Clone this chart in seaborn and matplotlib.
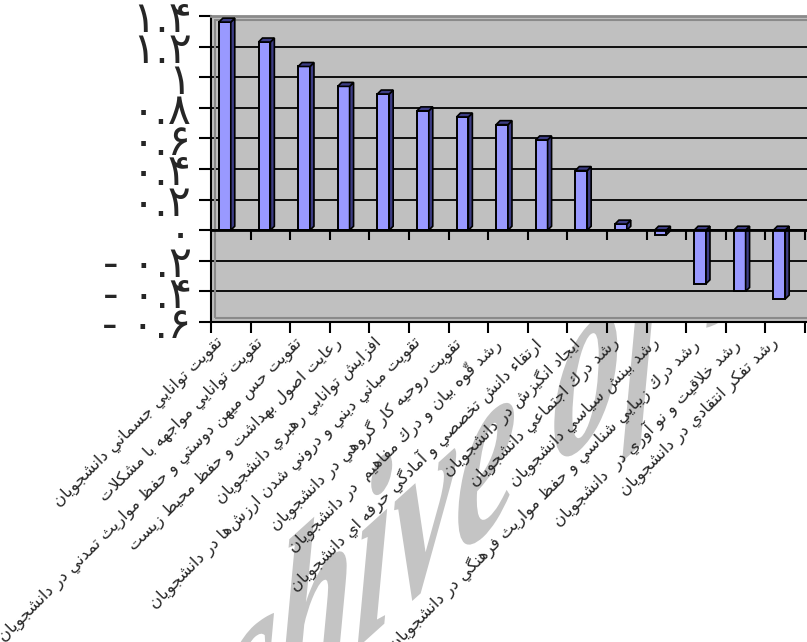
"""
plot.py
-------
Bar chart of goal scores (Persian labels), 3D-column look.
"""

import numpy as np
import pandas as pd
import matplotlib
matplotlib.use("Agg")
import matplotlib.pyplot as plt
import seaborn as sns
from matplotlib.patches import Polygon, PathPatch, Rectangle
from matplotlib.textpath import TextPath
from matplotlib.font_manager import FontProperties
from matplotlib.transforms import Affine2D

goals = [
    "تقويت توانايي جسماني دانشجويان",
    "تقويت توانايي مواجهه با مشكلات",
    "تقويت حس ميهن دوستي و حفظ مواريث تمدني در دانشجويان",
    "رعايت اصول بهداشت و حفظ محيط زيست",
    "افزايش توانايي رهبري دانشجويان",
    "تقويت مباني ديني و دروني شدن ارزش\u200cها در دانشجويان",
    "تقويت روحيه كار گروهي در دانشجويان",
    "رشد قوّه بيان و درك مفاهيم  در دانشجويان",
    "ارتقاء دانش تخصصي و آمادگي حرفه اي دانشجويان",
    "ايجاد انگيزش در دانشجويان",
    "رشد درك اجتماعي دانشجويان",
    "رشد بينش سياسي دانشجويان",
    "رشد درك زيبايي شناسي و حفظ مواريث فرهنگي در دانشجويان",
    "رشد خلاقيت و نو آوري در  دانشجويان",
    "رشد تفكر انتقادي در دانشجويان",
]
scores = [1.36, 1.23, 1.07, 0.94, 0.89, 0.78, 0.74, 0.69, 0.59, 0.39,
          0.04, -0.03, -0.35, -0.40, -0.45]
y_ticks = [-0.6, -0.4, -0.2, 0, 0.2, 0.4, 0.6, 0.8, 1, 1.2, 1.4]
y_tick_labels = ["- ۰.۶", "- ۰.۴", "- ۰.۲", "۰", "۰.۲", "۰.۴", "۰.۶",
                 "۰.۸", "۱", "۱.۲", "۱.۴"]

# --- minimal Arabic/Persian shaping (no arabic_reshaper available) ---
_B_BLOCK = [("\u0621", 1), ("\u0622", 2), ("\u0623", 2), ("\u0624", 2),
            ("\u0625", 2), ("\u0626", 4), ("\u0627", 2), ("\u0628", 4),
            ("\u0629", 2), ("\u062a", 4), ("\u062b", 4), ("\u062c", 4),
            ("\u062d", 4), ("\u062e", 4), ("\u062f", 2), ("\u0630", 2),
            ("\u0631", 2), ("\u0632", 2), ("\u0633", 4), ("\u0634", 4),
            ("\u0635", 4), ("\u0636", 4), ("\u0637", 4), ("\u0638", 4),
            ("\u0639", 4), ("\u063a", 4), ("\u0641", 4), ("\u0642", 4),
            ("\u0643", 4), ("\u0644", 4), ("\u0645", 4), ("\u0646", 4),
            ("\u0647", 4), ("\u0648", 2), ("\u0649", 2), ("\u064a", 4)]
FORMS = {}
_code = 0xFE80
for _ch, _n in _B_BLOCK:
    FORMS[_ch] = [chr(_code + k) for k in range(_n)]
    _code += _n
for _ch, _start, _n in [("\u067e", 0xFB56, 4), ("\u0686", 0xFB7A, 4),
                        ("\u0698", 0xFB8A, 2), ("\u06a9", 0xFB8E, 4),
                        ("\u06af", 0xFB92, 4), ("\u06cc", 0xFBFC, 4)]:
    FORMS[_ch] = [chr(_start + k) for k in range(_n)]
LAM_ALEF = {"\u0622": "\ufef5", "\u0623": "\ufef7", "\u0625": "\ufef9", "\u0627": "\ufefb"}


def is_mark(c):
    return "\u064b" <= c <= "\u065f" or c == "\u0670"


def joins_next(c):
    return c in FORMS and len(FORMS[c]) == 4


def joins_prev(c):
    return c in FORMS and len(FORMS[c]) >= 2


def shape(text):
    chars = list(text)
    n = len(chars)
    glyphs = []
    prev_joins = False
    i = 0
    while i < n:
        c = chars[i]
        if is_mark(c) and glyphs:
            glyphs[-1] += c
            i += 1
            continue
        if c not in FORMS:
            if c != "\u200c":
                glyphs.append(c)
            prev_joins = False
            i += 1
            continue
        k = i + 1
        while k < n and is_mark(chars[k]):
            k += 1
        nxt = chars[k] if k < n else ""
        jp = prev_joins and joins_prev(c)
        if c == "\u0644" and nxt in LAM_ALEF:
            lig = LAM_ALEF[nxt]
            if jp:
                lig = chr(ord(lig) + 1)
            glyphs.append(lig + "".join(chars[i + 1:k]))
            prev_joins = False
            i = k + 1
            continue
        jn = joins_next(c) and joins_prev(nxt)
        f = FORMS[c]
        if jp and jn:
            g = f[3]
        elif jp:
            g = f[1]
        elif jn:
            g = f[2]
        else:
            g = f[0]
        glyphs.append(g)
        prev_joins = joins_next(c)
        i += 1
    return "".join(reversed(glyphs))


sns.set_theme(style="white")
plt.rcParams["font.family"] = ["DejaVu Sans"]

fig = plt.figure(figsize=(8.07, 6.42), dpi=100)
W, H = 807, 642
ax = fig.add_axes([211 / W, 1 - 322 / H, (807 - 211) / W, (322 - 16) / H])
ax.set_zorder(1)
ax.set_facecolor("#c0c0c0")

df = pd.DataFrame({"goal": [shape(g) for g in goals], "score": scores})
sns.barplot(data=df, x="goal", y="score", color="#9999ff", saturation=1,
            width=0.3, edgecolor="black", linewidth=1.4, ax=ax, zorder=3)

# 3D side and top faces, taken from the bars seaborn drew
dx, dy = 0.1, 0.026
for p in list(ax.patches):
    x0, w = p.get_x(), p.get_width()
    y0, h = p.get_y(), p.get_height()
    top, bot = max(y0, y0 + h), min(y0, y0 + h)
    ax.add_patch(Polygon([(x0 + w, bot), (x0 + w + dx, bot + dy),
                          (x0 + w + dx, top + dy), (x0 + w, top)],
                         closed=True, facecolor="#3d3d85", edgecolor="black",
                         linewidth=1.2, zorder=3))
    ax.add_patch(Polygon([(x0, top), (x0 + dx, top + dy),
                          (x0 + w + dx, top + dy), (x0 + w, top)],
                         closed=True, facecolor="#3d3d85", edgecolor="black",
                         linewidth=1.2, zorder=3))

n = len(goals)
bounds = np.arange(n + 1) - 0.35
ax.set_xlim(-0.35, n - 0.3)
ax.set_ylim(-0.6, 1.4)

# back wall outline
ax.add_patch(Rectangle((4 / 596, 4 / 306), 1, 1 - 8 / 306, transform=ax.transAxes,
                       facecolor="none", edgecolor="#8a8a8a", linewidth=1.5, zorder=1))

ax.set_yticks(y_ticks, labels=y_tick_labels)
ax.yaxis.grid(True, color="black", linewidth=1.3)
ax.set_axisbelow(True)
ax.tick_params(axis="y", length=9, width=1.5, color="black", pad=5,
               labelsize=31, left=True)

ax.set_xticks(bounds, labels=[""] * len(bounds))
ax.tick_params(axis="x", which="major", length=8, width=1.5, color="black",
               direction="out", bottom=True)
ax.set_xticks(np.arange(n) - 0.25, labels=df["goal"], minor=True)
ax.tick_params(axis="x", which="minor", length=0, pad=9, labelsize=11.8)
for lab in ax.get_xticklabels(minor=True):
    lab.set_rotation(45)
    lab.set_ha("right")
    lab.set_va("top")
    lab.set_rotation_mode("anchor")

# zero line with its own tick marks
ax.axhline(0, color="black", linewidth=2, zorder=4)
ax.vlines(bounds[1:], -0.065, 0, color="black", linewidth=1.5, zorder=4)

ax.set_xlabel("")
ax.set_ylabel("")
ax.spines["left"].set_color("black")
ax.spines["left"].set_linewidth(1.5)
ax.spines["bottom"].set_color("black")
ax.spines["bottom"].set_linewidth(1.5)
ax.spines["top"].set_color("#8a8a8a")
ax.spines["top"].set_linewidth(2)
ax.spines["right"].set_visible(False)

# faint watermark behind the chart (tall, slanted letters)
wm_prop = FontProperties(family="Liberation Serif", style="italic", weight="bold")
wm_size = 140
wm_path = TextPath((0, 0), "Archive of SID", size=wm_size, prop=wm_prop)
arc_w = TextPath((0, 0), "Arc", size=wm_size, prop=wm_prop).get_extents().x1
wm_tr = (Affine2D().translate(-arc_w, 0).scale(1, 1.75)
         .skew_deg(0, 42).translate(274, -81))
fig.add_artist(PathPatch(wm_path, transform=wm_tr, facecolor="#c4c4c4",
                         edgecolor="none", zorder=0))

fig.savefig("out.png", dpi=100)
